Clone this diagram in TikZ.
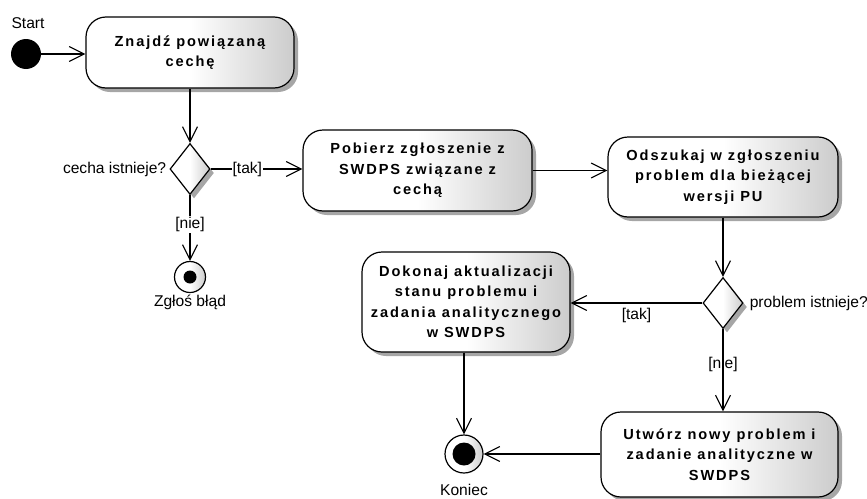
\documentclass[tikz,border=0pt]{standalone}
\usepackage{fontspec}
\setmainfont{Liberation Sans}
\newfontfamily\actfont[LetterSpace=13]{Liberation Sans}
\usetikzlibrary{arrows.meta,shapes.geometric,shadows}

\tikzset{
  >={Straight Barb[length=15pt,width=15pt]},
  flow/.style={line width=1.1pt},
  shade/.style={left color=white, right color=black!20, middle color=white},
  action/.style={draw, line width=1.2pt, rounded corners=20pt, align=center, inner sep=0pt,
    font=\actfont\bfseries\fontsize{14.6}{20.5}\selectfont, shade,
    drop shadow={shadow xshift=4pt, shadow yshift=-4pt, fill=black!35, opacity=1}},
  decision/.style={diamond, draw, line width=1.2pt, inner sep=0pt, minimum width=40pt,
    minimum height=51pt, shade,
    drop shadow={shadow xshift=4pt, shadow yshift=-4pt, fill=black!35, opacity=1}},
  final/.style={circle, draw, line width=1.2pt, inner sep=0pt, shade},
  guard/.style={font=\fontsize{15.6}{18}\selectfont, inner sep=1pt},
}

\begin{document}
\begin{tikzpicture}[x=1pt, y=-1pt]
\useasboundingbox (0,0) rectangle (867,498);

\node[circle, fill=black, minimum size=30pt, inner sep=0pt] (start) at (26,54) {};
\node[guard] (startlbl) at (28,23) {Start};

\node[action, minimum width=208pt, minimum height=71pt] (box1) at (190,52.5) {Znajdź powiązaną\\cechę};
\node[decision] (d1) at (190,169) {};
\node[guard, anchor=east] (q1) at ([xshift=-2pt]d1.west) {cecha istnieje?};
\node[final, minimum size=31pt] (endErr) at (190,277) {};
\fill (endErr) circle (6.5pt);
\node[guard] (errlbl) at (190,302) {Zgłoś błąd};

\node[action, minimum width=229pt, minimum height=81pt] (box2) at (417.5,170.5) {Pobierz zgłoszenie z\\SWDPS związane z\\cechą};
\node[action, minimum width=230pt, minimum height=80pt] (box3) at (723,177) {Odszukaj w zgłoszeniu\\problem dla bieżącej\\wersji PU};
\node[decision] (d2) at (723,303) {};
\node[guard, anchor=west] (q2) at ([xshift=5pt]d2.east) {problem istnieje?};

\node[action, minimum width=208pt, minimum height=100pt] (box4) at (466,302) {Dokonaj aktualizacji\\stanu problemu i\\zadania analitycznego\\w SWDPS};
\node[action, minimum width=237pt, minimum height=85pt] (box5) at (719.5,454.5) {Utwórz nowy problem i\\zadanie analityczne w\\SWDPS};
\node[final, minimum size=38pt] (endMain) at (464,454) {};
\fill (endMain) circle (11.5pt);
\node[guard] (endlbl) at (464,490) {Koniec};

\draw[flow, ->] (start.east) -- (start.east -| box1.west);
\draw[flow, ->] (box1) -- (d1);
\draw[flow, ->] (d1) -- node[guard, fill=white, pos=0.4] {[tak]} (d1 -| box2.west);
\draw[flow, ->] (d1) -- node[guard, fill=white, pos=0.45] {[nie]} (endErr);
\draw[flow, ->] (box2.east) -- (box2.east -| box3.west);
\draw[flow, ->] (box3) -- (d2);
\draw[flow, ->] (d2) -- node[guard, below=4pt] {[tak]} (d2 -| box4.east);
\draw[flow, ->] (d2) -- node[guard, pos=0.43] {[nie]} (d2 |- box5.north);
\draw[flow, ->] (box4.south -| endMain) -- (endMain);
\draw[flow, ->] (box5.west |- endMain) -- (endMain);
\end{tikzpicture}
\end{document}
